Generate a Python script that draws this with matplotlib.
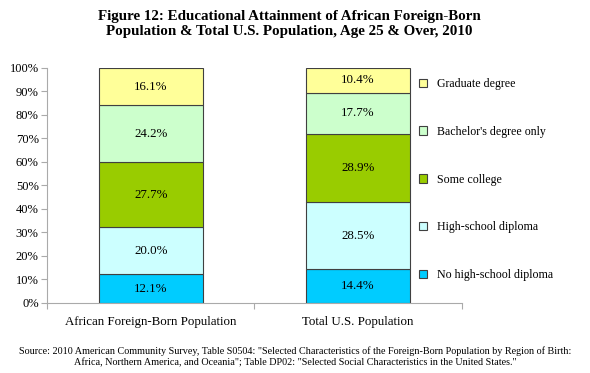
import matplotlib.pyplot as plt
import numpy as np

plt.rcParams['font.family'] = ['Liberation Serif', 'DejaVu Serif']

groups = ['African Foreign-Born Population', 'Total U.S. Population']
levels = ['No high-school diploma', 'High-school diploma', 'Some college',
          "Bachelor's degree only", 'Graduate degree']
african = [12.1, 20.0, 27.7, 24.2, 16.1]
total_us = [14.4, 28.5, 28.9, 17.7, 10.4]
colors = ['#00CCFF', '#CCFFFF', '#99CC00', '#CCFFCC', '#FFFF99']

fig = plt.figure(figsize=(5.9, 3.73), dpi=100)
ax = fig.add_axes([0.0797, 0.188, 0.703, 0.63])

x = np.arange(len(groups))
vals = np.array([african, total_us]).T
bottom = np.zeros(len(groups))
handles = []
for lvl, v, c in zip(levels, vals, colors):
    bars = ax.bar(x, v, 0.5, bottom=bottom, color=c, edgecolor='#404040',
                  linewidth=0.8, label=lvl)
    handles.append(bars)
    for xi, b, vi in zip(x, bottom, v):
        ax.text(xi, b + vi / 2, f'{vi:.1f}%', ha='center', va='center',
                fontsize=9.3)
    bottom += v

ax.set_xlim(-0.5, 1.5)
ax.set_ylim(0, 100)
ax.set_yticks(range(0, 101, 10))
ax.set_yticklabels([f'{t}%' for t in range(0, 101, 10)], fontsize=9)
ax.set_xticks([-0.5, 0.5, 1.5])
ax.set_xticklabels(['', '', ''])
ax.tick_params(axis='x', length=4, color='#aaaaaa')
ax.tick_params(axis='y', length=4, color='#aaaaaa', pad=2)
for xi, g in zip(x, groups):
    ax.text(xi, -8.1, g, ha='center', va='center', fontsize=9.3)
for s in ['top', 'right']:
    ax.spines[s].set_visible(False)
for s in ['left', 'bottom']:
    ax.spines[s].set_color('#aaaaaa')

leg = fig.legend(handles[::-1], levels[::-1], loc='upper left',
                 bbox_to_anchor=(0.692, 0.82), frameon=False, fontsize=8.6,
                 handlelength=0.7, handleheight=0.7, handletextpad=0.8,
                 labelspacing=3.0)
for h in leg.legend_handles:
    h.set_linewidth(0.8)

fig.text(0.49, 0.936, 'Figure 12: Educational Attainment of African Foreign-Born\n'
         'Population & Total U.S. Population, Age 25 & Over, 2010',
         ha='center', va='center', fontsize=10.8, fontweight='bold', linespacing=1.25)
fig.text(0.5, 0.043, 'Source: 2010 American Community Survey, Table S0504: "Selected '
         'Characteristics of the Foreign-Born Population by Region of Birth:\n'
         'Africa, Northern America, and Oceania"; Table DP02: "Selected Social '
         'Characteristics in the United States."',
         ha='center', va='center', fontsize=7.3, linespacing=1.3)

fig.savefig('out.png', dpi=100)
